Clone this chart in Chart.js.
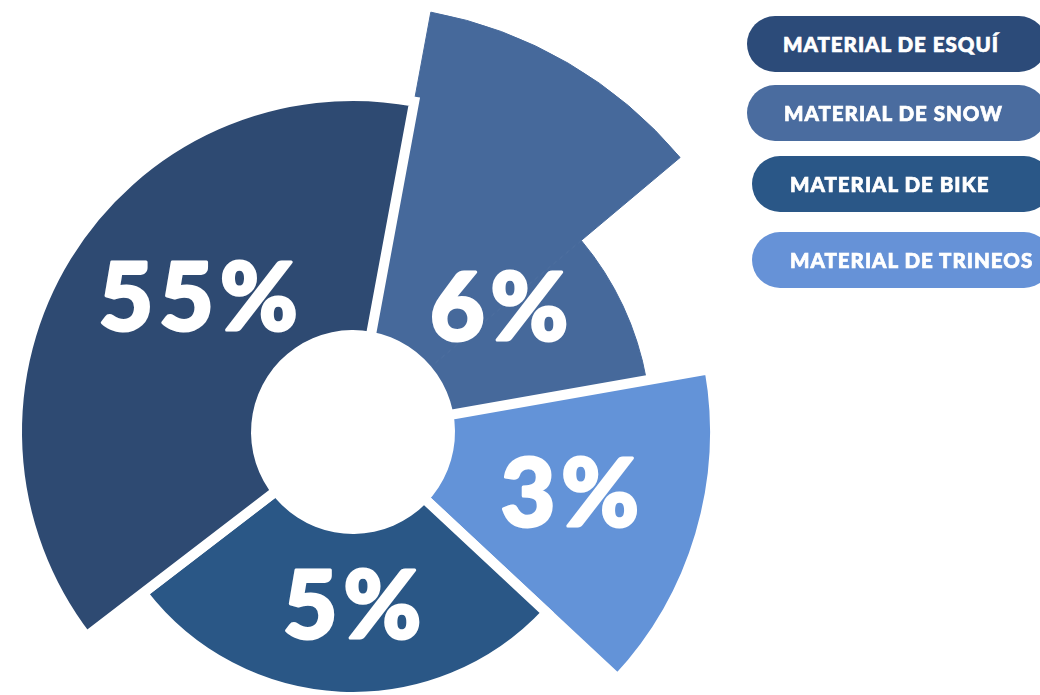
<!DOCTYPE html>
<html lang="es">
<head>
<meta charset="utf-8">
<title>Material</title>
<script src="https://cdn.jsdelivr.net/npm/chart.js@4.4.1/dist/chart.umd.min.js"></script>
<style>
  html, body { margin:0; padding:0; background:#ffffff; width:1040px; height:695px; overflow:hidden; }
  #wrap { position:absolute; left:-87px; top:-8px; width:880px; height:880px; }
  .pill { position:absolute; width:300px; height:56px; border-radius:28px; color:#ffffff;
          font-family: Lato, "Open Sans", sans-serif; font-weight:900; font-size:20.5px; letter-spacing:1px;
          -webkit-text-stroke: 0.7px #ffffff;
          display:flex; align-items:center; box-sizing:border-box; white-space:nowrap; }
</style>
</head>
<body>
<div id="wrap"><canvas id="c"></canvas></div>
<div id="legend"></div>
<script>
// ---- data ----
const categories = ['MATERIAL DE ESQUÍ', 'MATERIAL DE SNOW', 'MATERIAL DE BIKE', 'MATERIAL DE TRINEOS'];
const shareLabels = ['55%', '6%', '5%', '3%'];
const categoryColors = ['#2e4a72', '#46699b', '#2a5786', '#6393d8'];
const legendColors = ['#2c4b79', '#4a6c9f', '#2a5787', '#6692d7'];
// wedges clockwise from the start angle (degrees from 12 o'clock)
const startAngle = 10.5;
const wedgeCategory = [1, 1, 3, 2, 0];
const wedgeSweep = [39.5, 30, 53, 99.5, 138];
const wedgeRadius = [427, 298, 362, 265, 336];
const holeRadius = [102];
const scaleMax = 440;

// ---- label layout (polar placement: degrees clockwise from top, distance) ----
const labelPlacement = [
  { cat: 0, angle: 311.3, dist: 206 },
  { cat: 1, angle: 49.2, dist: 193 },
  { cat: 2, angle: 180.3, dist: 172 },
  { cat: 3, angle: 105.5, dist: 225 }
];

const shareLabelPlugin = {
  id: 'shareLabels',
  afterDatasetsDraw(chart) {
    const s = chart.scales.r;
    const ctx = chart.ctx;
    ctx.save();
    ctx.fillStyle = '#ffffff';
    ctx.strokeStyle = '#ffffff';
    ctx.lineWidth = 3;
    ctx.lineJoin = 'round';
    ctx.font = '900 94px Lato, "Open Sans", sans-serif';
    if ('letterSpacing' in ctx) ctx.letterSpacing = '6px';
    ctx.textAlign = 'center';
    ctx.textBaseline = 'alphabetic';
    labelPlacement.forEach(p => {
      const a = p.angle * Math.PI / 180;
      const x = s.xCenter + p.dist * Math.sin(a) + 3;
      const y = s.yCenter - p.dist * Math.cos(a) + 34;
      ctx.fillText(shareLabels[p.cat], x, y);
      ctx.strokeText(shareLabels[p.cat], x, y);
    });
    ctx.restore();
  }
};

new Chart(document.getElementById('c'), {
  type: 'polarArea',
  data: {
    labels: wedgeCategory.map(i => categories[i]),
    datasets: [
      {
        label: 'hueco',
        data: holeRadius,
        angle: 360,
        backgroundColor: '#ffffff',
        borderWidth: 0,
        order: 1
      },
      {
        label: 'material',
        data: wedgeRadius,
        angle: (c) => wedgeSweep[c.dataIndex],
        backgroundColor: wedgeCategory.map(i => categoryColors[i]),
        borderColor: wedgeCategory.map(i => i === 1 ? categoryColors[i] : '#ffffff'),
        borderWidth: wedgeCategory.map(i => i === 1 ? 1 : 10),
        borderJoinStyle: 'miter',
        order: 2
      }
    ]
  },
  options: {
    responsive: true,
    maintainAspectRatio: false,
    animation: false,
    events: [],
    layout: { padding: 0 },
    plugins: { legend: { display: false }, tooltip: { enabled: false } },
    scales: {
      r: {
        display: false,
        min: 0,
        max: scaleMax,
        startAngle: startAngle,
        ticks: { display: false },
        pointLabels: { display: false },
        grid: { display: false },
        angleLines: { display: false }
      }
    }
  },
  plugins: [shareLabelPlugin]
});

// ---- legend pills ----
const pillBox = [
  { left: 747, top: 16, pad: 36 },
  { left: 747, top: 85, pad: 37 },
  { left: 752, top: 156, pad: 38 },
  { left: 752, top: 232, pad: 38 }
];
const legend = document.getElementById('legend');
categories.forEach((name, i) => {
  const d = document.createElement('div');
  d.className = 'pill';
  d.style.left = pillBox[i].left + 'px';
  d.style.top = pillBox[i].top + 'px';
  d.style.paddingLeft = pillBox[i].pad + 'px';
  d.style.background = legendColors[i];
  d.textContent = name;
  legend.appendChild(d);
});
</script>
</body>
</html>
